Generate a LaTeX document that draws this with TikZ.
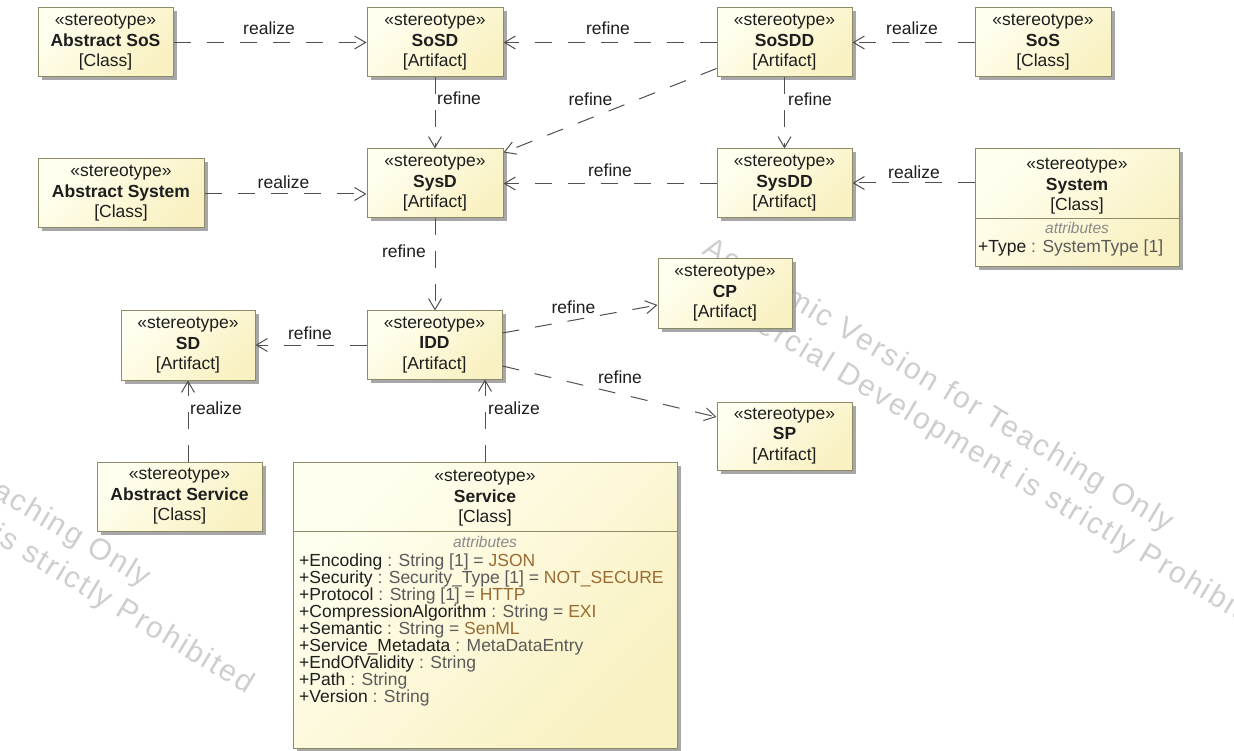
\documentclass[tikz,border=0pt]{standalone}
\usepackage{fontspec}
\setmainfont{Liberation Sans}
\newfontfamily\wmfont[LetterSpace=7]{Liberation Sans}
\usetikzlibrary{arrows.meta,shadows}

\definecolor{boxlight}{HTML}{FFFFF0}
\definecolor{boxdark}{HTML}{F9F1C2}
\definecolor{boxedge}{HTML}{8E8B68}
\definecolor{linkgray}{HTML}{505050}
\definecolor{textdark}{HTML}{1E1E1E}
\definecolor{typegray}{HTML}{5A5A5A}
\definecolor{valbrown}{HTML}{9A6A32}
\definecolor{wmgray}{HTML}{CECECE}
\definecolor{notegray}{HTML}{8A8A8A}

\newcommand{\ufont}{\fontsize{17.5pt}{20.5pt}\selectfont}
\newcommand{\atype}[1]{\textcolor{typegray}{#1}}
\newcommand{\aval}[1]{\textcolor{valbrown}{#1}}

\tikzset{
  umlbox/.style={draw=boxedge, line width=1pt,
    top color=boxlight, bottom color=boxdark, shading angle=45,
    drop shadow={shadow xshift=3.5pt, shadow yshift=-3.5pt, fill=black!38, opacity=0.9},
    font=\ufont, text=textdark, align=center, inner sep=0pt},
  headtext/.style={font=\ufont, text=textdark, align=center, inner sep=0pt},
  attrhead/.style={font=\fontsize{15.5pt}{17pt}\selectfont\itshape, text=notegray, inner sep=0pt, anchor=base},
  attr/.style={font=\ufont, text=textdark, inner sep=0pt, anchor=base west},
  link/.style={draw=linkgray, line width=1pt, dash pattern=on 17pt off 16pt,
    -{Straight Barb[length=11pt, width=13pt]}},
  lbl/.style={font=\ufont, text=textdark, inner sep=0pt, anchor=base},
  wm/.style={font=\wmfont\fontsize{30pt}{36pt}\selectfont, text=wmgray, rotate=-31,
    inner sep=0pt, anchor=base west},
}

\begin{document}
\begin{tikzpicture}[x=1pt, y=-1pt]
\useasboundingbox (0,0) rectangle (1234,751);
\fill[white] (0,0) rectangle (1234,751);

% licence watermark, under everything else
\begin{scope}
  \clip (0,0) rectangle (1234,751);
  \node[wm] (wmA1) at (701,253) {Academic Version for Teaching Only};
  \node[wm] (wmA2) at (672.9,280.8) {Commercial Development is strictly Prohibited};
  \node[wm] (wmB1) at (-321.8,307.7) {Academic Version for Teaching Only};
  \node[wm] (wmB2) at (-349.9,335.5) {Commercial Development is strictly Prohibited};
\end{scope}

% top row
\node[umlbox, minimum width=135pt, minimum height=69pt] (abssos) at (105.5,42.5)
  {«stereotype»\\\textbf{Abstract SoS}\\{[Class]}};
\node[umlbox, minimum width=136pt, minimum height=69pt] (sosd) at (435,42.5)
  {«stereotype»\\\textbf{SoSD}\\{[Artifact]}};
\node[umlbox, minimum width=135pt, minimum height=69pt] (sosdd) at (784.5,42.5)
  {«stereotype»\\\textbf{SoSDD}\\{[Artifact]}};
\node[umlbox, minimum width=136pt, minimum height=69pt] (sos) at (1043,42.5)
  {«stereotype»\\\textbf{SoS}\\{[Class]}};

% system row
\node[umlbox, minimum width=166pt, minimum height=69pt] (abssys) at (121,193.5)
  {«stereotype»\\\textbf{Abstract System}\\{[Class]}};
\node[umlbox, minimum width=136pt, minimum height=69pt] (sysd) at (435,183.5)
  {«stereotype»\\\textbf{SysD}\\{[Artifact]}};
\node[umlbox, minimum width=135pt, minimum height=69pt] (sysdd) at (784.5,183.5)
  {«stereotype»\\\textbf{SysDD}\\{[Artifact]}};
\node[umlbox, minimum width=204pt, minimum height=118pt] (system) at (1077,208) {};
\draw[draw=boxedge, line width=1pt] (system.west |- 0,219) -- (system.east |- 0,219);
\node[headtext] (systemhead) at (1077,186.5) {«stereotype»\\\textbf{System}\\{[Class]}};
\node[attrhead] (systemattr) at (1077,234) {attributes};
\node[attr] (sy1) at (978,253) {+Type \atype{: SystemType [1]}};

% interface row
\node[umlbox, minimum width=134pt, minimum height=69pt] (cp) at (725,293.5)
  {«stereotype»\\\textbf{CP}\\{[Artifact]}};
\node[umlbox, minimum width=134pt, minimum height=69pt] (sd) at (188,345.5)
  {«stereotype»\\\textbf{SD}\\{[Artifact]}};
\node[umlbox, minimum width=135pt, minimum height=68pt] (idd) at (434.5,345)
  {«stereotype»\\\textbf{IDD}\\{[Artifact]}};
\node[umlbox, minimum width=135pt, minimum height=68pt] (sp) at (784.5,436)
  {«stereotype»\\\textbf{SP}\\{[Artifact]}};

% service row
\node[umlbox, minimum width=165pt, minimum height=69pt] (absserv) at (179.5,496.5)
  {«stereotype»\\\textbf{Abstract Service}\\{[Class]}};
\node[umlbox, minimum width=384pt, minimum height=286pt] (service) at (485,605) {};
\draw[draw=boxedge, line width=1pt] (service.west |- 0,531) -- (service.east |- 0,531);
\node[headtext] (servicehead) at (485,498.5) {«stereotype»\\\textbf{Service}\\{[Class]}};
\node[attrhead] (serviceattr) at (485,547) {attributes};
\node[attr] (sv1) at (299,566.0) {+Encoding \atype{: String [1] = }\aval{JSON}};
\node[attr] (sv2) at (299,583.1) {+Security \atype{: Security\_Type [1] = }\aval{NOT\_SECURE}};
\node[attr] (sv3) at (299,600.2) {+Protocol \atype{: String [1] = }\aval{HTTP}};
\node[attr] (sv4) at (299,617.3) {+CompressionAlgorithm \atype{: String = }\aval{EXI}};
\node[attr] (sv5) at (299,634.4) {+Semantic \atype{: String = }\aval{SenML}};
\node[attr] (sv6) at (299,651.5) {+Service\_Metadata \atype{: MetaDataEntry}};
\node[attr] (sv7) at (299,668.6) {+EndOfValidity \atype{: String}};
\node[attr] (sv8) at (299,685.7) {+Path \atype{: String}};
\node[attr] (sv9) at (299,702.8) {+Version \atype{: String}};

% dependencies
\draw[link] (abssos) -- (sosd);
\draw[link] (sosdd) -- (sosd);
\draw[link] (sos) -- (sosdd);
\draw[link] (sosd.south) -- (sosd.south |- sysd.north);
\draw[link] ([yshift=9pt]sosdd.south west) -- ([yshift=-4pt]sysd.north east);
\draw[link] (sosdd.south) -- (sosdd.south |- sysdd.north);
\draw[link] (sysdd) -- (sysd);
\draw[link] (abssys.east |- 0,194) -- (sysd.west |- 0,194);
\draw[link] (system.west |- 0,183) -- (sysdd.east |- 0,183);
\draw[link] (sysd.south) -- (sysd.south |- idd.north);
\draw[link] ([yshift=12pt]idd.east) -- ([yshift=-11.5pt]cp.west);
\draw[link] ([yshift=-21pt]idd.east) -- ([yshift=19pt]sp.west);
\draw[link] (idd.west) -- (idd.west -| sd.east);
\draw[link] (sd.south |- absserv.north) -- (sd.south);
\draw[link] (service.north) -- (service.north |- idd.south);

% dependency labels
\node[lbl] (l1) at (269,35) {realize};
\node[lbl] (l2) at (608,35) {refine};
\node[lbl] (l3) at (912,35) {realize};
\node[lbl, anchor=base west] (l4) at (437,105) {refine};
\node[lbl] (l5) at (590.5,106) {refine};
\node[lbl, anchor=base west] (l6) at (788,106) {refine};
\node[lbl] (l7) at (610,177) {refine};
\node[lbl] (l8) at (283.5,189) {realize};
\node[lbl] (l9) at (914,179) {realize};
\node[lbl, anchor=base east] (l10) at (426,258) {refine};
\node[lbl] (l11) at (573.5,313) {refine};
\node[lbl] (l12) at (620,383) {refine};
\node[lbl] (l13) at (310,339) {refine};
\node[lbl, anchor=base west] (l14) at (190,414) {realize};
\node[lbl, anchor=base west] (l15) at (488,414) {realize};
\end{tikzpicture}
\end{document}
